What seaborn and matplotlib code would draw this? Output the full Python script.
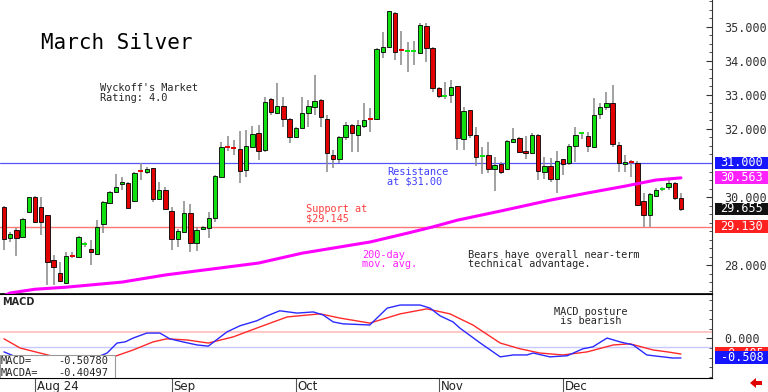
import numpy as np
import pandas as pd
import seaborn as sns
import matplotlib.pyplot as plt
from matplotlib.patches import Rectangle
from matplotlib.ticker import MultipleLocator, FormatStrFormatter, FixedLocator

# daily candles, March silver
opens = [29.71, 28.79, 29.03, 28.82, 29.56, 30.00, 29.71, 29.47, 28.15, 27.76,
         27.47, 28.26, 28.24, 28.59, 28.47, 28.32, 29.21, 29.82, 30.15, 30.38,
         30.41, 29.88, 30.76, 30.74, 30.85, 29.94, 30.21, 29.59, 28.76, 28.97,
         29.53, 28.65, 29.06, 29.09, 29.38, 30.59, 31.50, 31.47, 31.41, 30.79,
         31.47, 31.88, 31.38, 32.88, 32.47, 32.68, 32.29, 31.76, 32.03, 32.47,
         32.65, 32.85, 32.29, 31.24, 31.12, 31.76, 32.12, 31.82, 32.09, 32.30,
         32.29, 34.26, 34.41, 35.41, 34.32, 34.26, 34.26, 34.24, 35.03, 34.38,
         33.21, 32.94, 33.00, 33.26, 31.71, 32.56, 31.82, 31.18, 31.24, 30.82,
         30.97, 30.82, 31.62, 31.74, 31.35, 31.29, 31.82, 30.74, 30.91, 30.53,
         31.12, 31.00, 31.50, 31.85, 31.79, 31.47, 32.44, 32.65, 32.76, 31.53,
         30.97, 31.03, 31.00, 29.88, 29.47, 30.03, 30.21, 30.29, 30.41, 29.97]
highs = [29.75, 28.97, 29.09, 29.38, 30.00, 30.03, 30.00, 29.47, 28.29, 28.09,
         28.38, 28.38, 28.85, 28.68, 28.74, 29.32, 29.88, 30.18, 30.68, 30.59,
         30.44, 30.74, 31.00, 30.88, 30.85, 30.44, 30.29, 29.71, 29.06, 29.88,
         29.79, 29.12, 29.15, 29.56, 30.65, 31.62, 31.79, 31.68, 31.94, 31.97,
         32.09, 32.12, 32.94, 32.91, 33.35, 32.94, 32.32, 32.06, 32.94, 32.85,
         33.59, 32.88, 32.41, 31.38, 31.79, 32.21, 32.15, 32.26, 32.76, 32.62,
         34.38, 34.85, 35.47, 35.44, 34.88, 34.56, 34.59, 35.12, 35.12, 34.41,
         33.24, 33.38, 33.44, 33.26, 32.65, 32.56, 32.06, 31.47, 31.62, 31.18,
         31.03, 31.68, 32.03, 31.76, 31.79, 31.88, 31.85, 31.18, 31.15, 31.35,
         31.12, 31.56, 32.06, 31.91, 31.91, 32.91, 32.76, 33.09, 33.29, 31.62,
         31.24, 31.09, 31.06, 30.12, 30.12, 30.26, 30.29, 30.50, 30.44, 30.12]
lows = [28.44, 28.68, 28.26, 28.79, 29.53, 29.24, 28.88, 27.41, 27.41, 27.50,
        27.47, 28.20, 28.20, 28.53, 28.00, 28.29, 28.94, 29.79, 30.12, 30.21,
        29.68, 29.85, 30.50, 30.68, 29.85, 29.94, 29.65, 28.44, 28.53, 28.97,
        28.38, 28.41, 29.03, 28.79, 29.26, 30.59, 31.35, 31.24, 30.41, 30.59,
        31.47, 31.09, 31.32, 32.41, 32.44, 32.06, 31.59, 31.74, 32.03, 32.06,
        32.41, 32.06, 30.74, 30.85, 31.00, 31.68, 31.32, 31.32, 32.03, 31.91,
        32.26, 34.09, 34.38, 34.03, 33.88, 33.68, 33.88, 34.21, 33.97, 33.09,
        32.91, 32.88, 32.76, 31.38, 31.38, 31.74, 30.91, 30.68, 30.71, 30.18,
        30.68, 30.79, 31.60, 31.29, 31.12, 31.26, 30.50, 30.53, 30.44, 30.12,
        30.65, 30.94, 31.03, 31.71, 31.32, 31.44, 32.29, 32.56, 31.47, 30.74,
        30.74, 30.59, 29.74, 29.12, 29.13, 30.00, 30.18, 30.21, 29.91, 29.59]
closes = [28.76, 28.91, 28.79, 29.35, 30.00, 29.26, 29.26, 28.09, 27.94, 27.53,
          28.26, 28.24, 28.82, 28.65, 28.38, 29.12, 29.85, 30.15, 30.29, 30.44,
          29.68, 30.71, 30.74, 30.82, 29.94, 30.21, 29.65, 28.76, 29.00, 29.53,
          28.65, 29.03, 29.12, 29.38, 30.62, 31.47, 31.44, 31.41, 30.76, 31.50,
          31.85, 31.35, 32.79, 32.50, 32.68, 32.29, 31.76, 32.03, 32.47, 32.68,
          32.82, 32.35, 31.29, 31.12, 31.76, 32.12, 31.88, 32.12, 32.26, 32.26,
          34.35, 34.41, 35.47, 34.26, 34.29, 34.29, 34.30, 35.06, 34.38, 33.21,
          32.97, 32.97, 33.24, 31.74, 32.53, 31.82, 31.18, 31.24, 30.82, 30.94,
          30.74, 31.65, 31.71, 31.32, 31.29, 31.82, 30.76, 30.91, 30.53, 31.06,
          30.97, 31.50, 31.82, 31.88, 31.50, 32.41, 32.65, 32.76, 31.56, 31.00,
          31.03, 31.00, 29.76, 29.47, 30.09, 30.21, 30.26, 30.41, 29.97, 29.655]

# 200-day moving average, read at a few bars
ma_idx = [0, 1, 5, 10, 19, 26, 32, 41, 48, 54, 59, 65, 69, 73, 80, 88, 94, 100, 105, 109]
ma_val = [27.10, 27.18, 27.29, 27.35, 27.50, 27.71, 27.85, 28.06, 28.35, 28.53,
          28.68, 28.94, 29.12, 29.32, 29.59, 29.91, 30.12, 30.32, 30.50, 30.563]

# MACD (blue) and its average (red)
macd_idx = [0, 4, 9, 13, 16.6, 18.2, 19.5, 20.8, 23, 25.1, 26.7, 28.8, 31.1, 32.9,
            35.9, 38, 40.7, 42.4, 44.4, 47.2, 49.8, 51.4, 53, 54.6, 58.9, 61.7,
            63.8, 67, 68.6, 70.2, 72.3, 73.4, 76.7, 79.9, 82, 84.2, 85.2, 87.9,
            90.7, 93.2, 94.8, 97.1, 99.2, 101.3, 103.5, 106.1, 107.7, 109]
macd_val = [-0.35, -0.62, -0.78, -0.62, -0.38, -0.12, -0.09, 0.01, 0.14, 0.14,
            -0.01, -0.09, -0.17, -0.20, 0.17, 0.33, 0.46, 0.59, 0.72, 0.66,
            0.69, 0.61, 0.43, 0.38, 0.35, 0.79, 0.87, 0.87, 0.79, 0.59, 0.43,
            0.27, -0.12, -0.48, -0.43, -0.43, -0.38, -0.48, -0.45, -0.27, -0.22,
            0.01, -0.09, -0.17, -0.43, -0.48, -0.51, -0.508]
sig_idx = [0, 2.6, 5.8, 10, 14, 17.6, 20.8, 24, 26.2, 29.5, 32.9, 36.9, 41.2, 45.6,
           50.9, 54.1, 58.9, 63.8, 68.1, 71.8, 75.5, 79.9, 83.1, 86.3, 90, 93.9,
           98.1, 100.8, 104.5, 106.8, 109]
sig_val = [-0.01, -0.25, -0.38, -0.55, -0.55, -0.48, -0.30, -0.09, -0.01, -0.04,
           -0.12, 0.04, 0.30, 0.56, 0.64, 0.53, 0.40, 0.64, 0.77, 0.64, 0.35,
           -0.12, -0.27, -0.38, -0.43, -0.35, -0.17, -0.14, -0.30, -0.35, -0.405]

month_idx = [5, 27, 47, 70, 90]
month_labels = ['Aug 24', 'Sep', 'Oct', 'Nov', 'Dec']
price_ticks = [28, 30, 32, 33, 34, 35]   # 29 and 31 sit under the value boxes
resistance = 31.00
support = 29.13

sns.set_style('white')
plt.rcParams['font.family'] = ['DejaVu Sans Mono', 'DejaVu Sans']

W, H = 768, 392
fig = plt.figure(figsize=(W / 100, H / 100), dpi=100)
ax = fig.add_axes([0, 1 - 294 / H, 712 / W, 294 / H])
ax2 = fig.add_axes([0, 1 - 378 / H, 712 / W, 84 / H])

GREEN = '#10e010'
RED = '#e00000'
x = np.arange(len(closes))
o = np.array(opens); c = np.array(closes)
up = c >= o

# candles
ax.vlines(x, lows, highs, color='#888888', lw=1.1, zorder=2)
body = np.abs(c - o)
small = body < 0.06
ax.bar(x[~small], body[~small], bottom=np.minimum(o, c)[~small], width=0.72,
       color=np.where(up, GREEN, RED)[~small], edgecolor='black', linewidth=0.6, zorder=3)
ax.bar(x[small], 0.05, bottom=np.minimum(o, c)[small], width=0.8,
       color=np.where(up, GREEN, RED)[small], edgecolor='none', zorder=3)

ma = pd.DataFrame({'bar': ma_idx, 'ma': ma_val})
sns.lineplot(data=ma, x='bar', y='ma', ax=ax, color='#ff00ff', linewidth=2.2, zorder=4)

ax.axhline(resistance, color='#5555ff', lw=0.9, zorder=1)
ax.axhline(support, color='#ff7777', lw=1.0, zorder=1)

ax.set_xlim(-0.644, 114.0)
ax.set_ylim(27.15, 35.79)
ax.set_xticks([])
ax.set_xlabel(''); ax.set_ylabel('')
ax.yaxis.tick_right()
ax.yaxis.set_major_locator(FixedLocator(price_ticks))
ax.yaxis.set_minor_locator(MultipleLocator(0.25))
ax.yaxis.set_major_formatter(FormatStrFormatter('%.3f'))
ax.tick_params(axis='y', which='both', direction='in', right=True, colors='#333333',
               labelsize=8.5, pad=9)
ax.tick_params(axis='y', which='major', length=4)
ax.tick_params(axis='y', which='minor', length=2)
for s in ['top', 'left']:
    ax.spines[s].set_visible(False)
ax.spines['right'].set_color('#333333')
ax.spines['bottom'].set_color('black')
ax.spines['bottom'].set_linewidth(1.2)


def price_box(a, y, txt, fc, h, z=5):
    tr = a.get_yaxis_transform()
    a.add_patch(Rectangle((1.004, y - h / 2), 0.075, h, transform=tr, clip_on=False,
                          facecolor=fc, edgecolor='none', zorder=z))
    a.text(1.042, y, txt, transform=tr, ha='center', va='center', color='white',
           fontsize=8.5, clip_on=False, zorder=z + 0.5)


price_box(ax, 31.0, '31.000', '#1515ff', 0.38)
price_box(ax, 30.563, '30.563', '#ff22ff', 0.38)
price_box(ax, 29.655, '29.655', '#111111', 0.36)
price_box(ax, 29.13, '29.130', '#ff2020', 0.38)

# MACD panel
ax2.axhline(0.17, color='#ffc8c8', lw=1.5, zorder=1)
ax2.axhline(-0.23, color='#c8c8ff', lw=1.0, zorder=1)
md = pd.DataFrame({'bar': macd_idx, 'v': macd_val})
sg = pd.DataFrame({'bar': sig_idx, 'v': sig_val})
sns.lineplot(data=sg, x='bar', y='v', ax=ax2, color='#ff2a2a', linewidth=1.0, zorder=3)
sns.lineplot(data=md, x='bar', y='v', ax=ax2, color='#2a2aff', linewidth=1.0, zorder=3)
ax2.set_xlim(-0.644, 114.0)
ax2.set_ylim(-1.03, 1.157)
ax2.set_xlabel(''); ax2.set_ylabel('')
ax2.yaxis.tick_right()
ax2.yaxis.set_major_locator(FixedLocator([0.0]))
ax2.yaxis.set_minor_locator(MultipleLocator(0.25))
ax2.yaxis.set_major_formatter(FormatStrFormatter('%.3f'))
ax2.tick_params(axis='y', which='both', direction='in', right=True, colors='#333333',
                labelsize=8.5, pad=9)
ax2.tick_params(axis='y', which='major', length=4)
ax2.tick_params(axis='y', which='minor', length=2)
ax2.spines['left'].set_visible(False)
for s in ['top', 'bottom', 'right']:
    ax2.spines[s].set_color('black')
ax2.spines['right'].set_color('#333333')
price_box(ax2, -0.405, '-0.405', '#ff2020', 0.34, z=5)
price_box(ax2, -0.508, '-0.508', '#1515ff', 0.34, z=7)

ax2.set_xticks(month_idx)
ax2.set_xticklabels([''] * len(month_idx))
ax2.tick_params(axis='x', direction='out', length=11, width=0.8, color='#555555', bottom=True)
for i, lab in zip(month_idx, month_labels):
    ax2.text(i + 0.3, -0.025, lab, transform=ax2.get_xaxis_transform(), ha='left', va='top',
             fontsize=8.5, family='DejaVu Sans', color='#222222', clip_on=False)

# readout box
ax2.add_patch(Rectangle((0, 0), 115 / 712, 23 / 84, transform=ax2.transAxes, facecolor='white',
                        edgecolor='#999999', linewidth=0.8, zorder=6))
ax2.text(1 / 712, 17.5 / 84, 'MACD=', transform=ax2.transAxes, va='center', fontsize=7.5, zorder=7)
ax2.text(1 / 712, 5.5 / 84, 'MACDA=', transform=ax2.transAxes, va='center', fontsize=7.5, zorder=7)
ax2.text(108 / 712, 17.5 / 84, '-0.50780', transform=ax2.transAxes, va='center', ha='right',
         fontsize=7.5, zorder=7)
ax2.text(108 / 712, 5.5 / 84, '-0.40497', transform=ax2.transAxes, va='center', ha='right',
         fontsize=7.5, zorder=7)


def ftext(px, py, s, **kw):
    fig.text(px / W, 1 - py / H, s, va='center', ha='left', **kw)


ftext(41, 43, 'March Silver', fontsize=15, color='black')
ftext(100, 93, "Wyckoff's Market\nRating: 4.0", fontsize=7.4, linespacing=0.95)
ftext(387, 177, 'Resistance\nat $31.00', fontsize=7.4, color='#4040ff', linespacing=0.95)
ftext(306, 214, 'Support at\n$29.145', fontsize=7.4, color='#ff4040', linespacing=0.95)
ftext(362, 259.5, '200-day\nmov. avg.', fontsize=7.4, color='#ff22ff', linespacing=0.95)
ftext(468, 259.5, 'Bears have overall near-term\ntechnical advantage.', fontsize=7.4,
      linespacing=0.95)
ftext(554, 316.5, 'MACD posture\n is bearish', fontsize=7.4, linespacing=0.95)
ftext(2, 302, 'MACD', fontsize=7, fontweight='bold', family='DejaVu Sans')

fig.patches.append(plt.Polygon([(750 / W, 1 - 383 / H), (756 / W, 1 - 378 / H), (756 / W, 1 - 381 / H),
                                (762 / W, 1 - 381 / H), (762 / W, 1 - 385 / H), (756 / W, 1 - 385 / H),
                                (756 / W, 1 - 388 / H)], closed=True, transform=fig.transFigure,
                               facecolor='#e00000', edgecolor='none'))

fig.savefig('out.png', dpi=100)
